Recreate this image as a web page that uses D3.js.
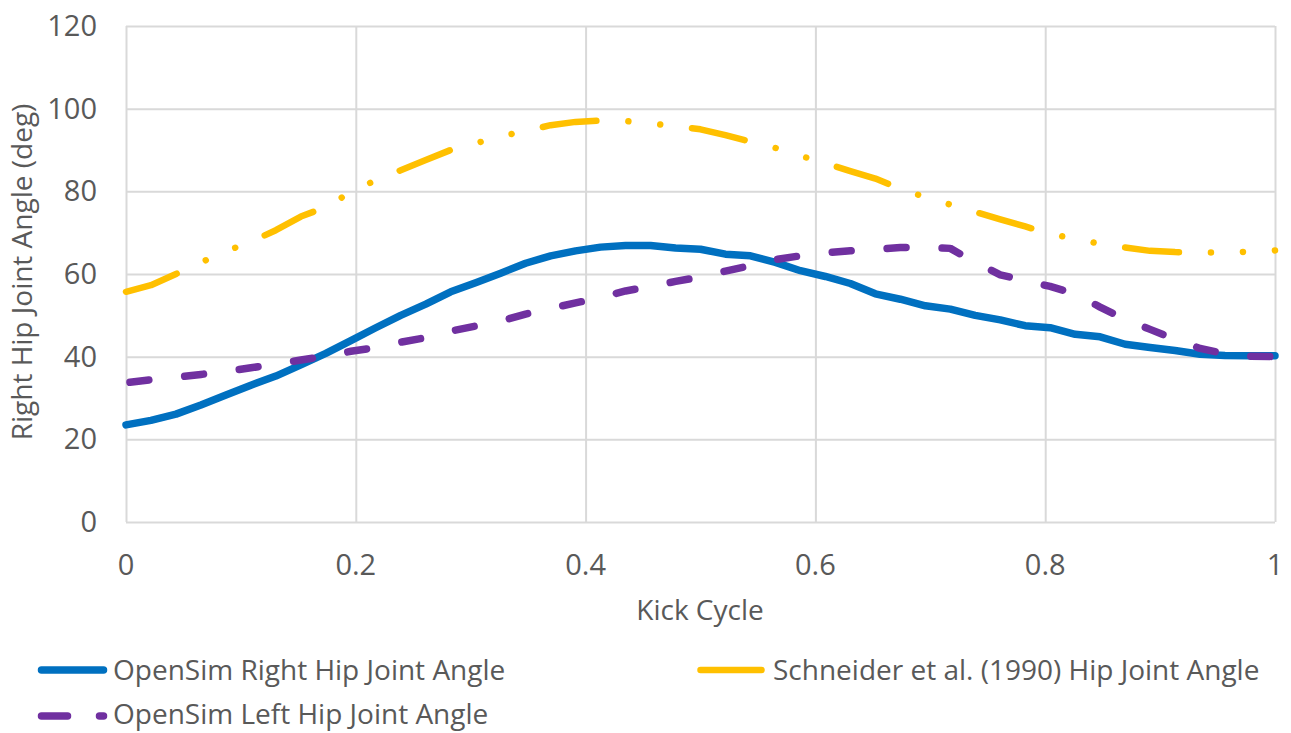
<!DOCTYPE html>
<html>
<head>
<meta charset="utf-8">
<script src="https://cdn.jsdelivr.net/npm/d3@7"></script>
<style>
  html, body { margin: 0; padding: 0; background: #fff; }
  svg { display: block; }
  text { font-family: "Open Sans", "Noto Sans", sans-serif; fill: #595959; }
</style>
</head>
<body>
<svg id="chart" width="1291" height="733"></svg>
<script>
// ---- data ----
const kickCycle = [0, 0.0217, 0.0435, 0.0652, 0.0870, 0.1087, 0.1304, 0.1522, 0.1739, 0.1957,
  0.2174, 0.2391, 0.2609, 0.2826, 0.3043, 0.3261, 0.3478, 0.3696, 0.3913, 0.4130,
  0.4348, 0.4565, 0.4783, 0.5, 0.5217, 0.5435, 0.5652, 0.5870, 0.6087, 0.6304,
  0.6522, 0.6739, 0.6957, 0.7174, 0.7391, 0.7609, 0.7826, 0.8043, 0.8261, 0.8478,
  0.8696, 0.8913, 0.9130, 0.9348, 0.9565, 0.9783, 1];

const rightHip = [23.5, 24.6, 26.1, 28.3, 30.7, 33.1, 35.3, 38.0, 40.8, 43.9,
  47.0, 50.0, 52.7, 55.7, 57.9, 60.2, 62.6, 64.4, 65.6, 66.5,
  66.9, 66.9, 66.3, 66.0, 64.8, 64.4, 62.8, 60.8, 59.4, 57.7,
  55.2, 53.9, 52.3, 51.5, 50.0, 48.9, 47.5, 47.0, 45.4, 44.8,
  43.0, 42.2, 41.5, 40.6, 40.3, 40.2, 40.2];

const schneider = [55.7, 57.3, 60.0, 62.8, 65.5, 67.8, 70.6, 73.9, 76.2, 79.8,
  82.7, 85.1, 87.6, 90.0, 91.6, 93.3, 94.6, 96.0, 96.8, 97.1,
  97.0, 96.4, 95.8, 95.0, 93.6, 92.0, 90.5, 88.6, 86.8, 84.9,
  83.1, 80.6, 78.6, 76.8, 75.0, 73.2, 71.5, 69.7, 68.5, 67.3,
  66.4, 65.6, 65.3, 65.2, 65.2, 65.4, 65.7];

const leftHip = [33.7, 34.4, 35.0, 35.7, 36.4, 37.3, 38.2, 39.2, 40.1, 41.3,
  42.2, 43.5, 44.6, 46.2, 47.4, 48.6, 50.3, 51.7, 53.0, 54.3,
  55.9, 57.0, 58.2, 59.3, 60.7, 62.0, 63.5, 64.4, 65.1, 65.6,
  66.0, 66.4, 66.4, 66.2, 62.8, 59.8, 58.4, 57.0, 55.2, 52.0,
  49.0, 46.6, 44.2, 42.0, 40.7, 40.1, 40.0];

const xTicks = [0, 0.2, 0.4, 0.6, 0.8, 1];
const yTicks = [0, 20, 40, 60, 80, 100, 120];
const seriesNames = ["OpenSim Right Hip Joint Angle", "Schneider et al. (1990) Hip Joint Angle", "OpenSim Left Hip Joint Angle"];
const xTitle = "Kick Cycle";
const yTitle = "Right Hip Joint Angle (deg)";

// ---- layout ----
const svg = d3.select("#chart");
const L = 126, R = 1275, T = 26, B = 522;
const x = d3.scaleLinear().domain([0, 1]).range([L, R]);
const y = d3.scaleLinear().domain([0, 120]).range([B, T]);
const grid = "#d9d9d9";
const tickFont = 29, titleFont = 28;

// gridlines
const gy = svg.append("g").attr("transform", `translate(${L},0)`)
  .call(d3.axisLeft(y).tickValues(yTicks).tickSize(-(R - L)).tickFormat(""));
gy.select(".domain").remove();
gy.selectAll("line").attr("stroke", grid).attr("stroke-width", 2);

const gx = svg.append("g").attr("transform", `translate(0,${B})`)
  .call(d3.axisBottom(x).tickValues(xTicks).tickSize(-(B - T)).tickFormat(""));
gx.select(".domain").remove();
gx.selectAll("line").attr("stroke", grid).attr("stroke-width", 2);

// tick labels
svg.append("g").selectAll("text").data(yTicks).join("text")
  .attr("x", 97).attr("y", d => y(d)).attr("dy", "0.35em")
  .attr("text-anchor", "end").attr("font-size", tickFont).text(d => d);
svg.append("g").selectAll("text").data(xTicks).join("text")
  .attr("x", d => x(d)).attr("y", 565).attr("dy", "0.35em")
  .attr("text-anchor", "middle").attr("font-size", tickFont).text(d => d);

// axis titles
svg.append("text").attr("x", 700).attr("y", 610).attr("dy", "0.35em")
  .attr("text-anchor", "middle").attr("font-size", titleFont).text(xTitle);
svg.append("text").attr("transform", `translate(22,272) rotate(-90)`)
  .attr("dy", "0.35em").attr("text-anchor", "middle").attr("font-size", titleFont).text(yTitle);

// lines
const line = vals => d3.line().x((d, i) => x(kickCycle[i])).y(d => y(d))(vals);

svg.append("path").attr("d", line(schneider)).attr("fill", "none")
  .attr("stroke", "#FFC000").attr("stroke-width", 6.5)
  .attr("stroke-linecap", "round").attr("stroke-linejoin", "round")
  .attr("stroke-dasharray", "54,32,0.01,32,0.01,32");

svg.append("path").attr("d", line(rightHip)).attr("fill", "none")
  .attr("stroke", "#0070C0").attr("stroke-width", 7.5)
  .attr("stroke-linecap", "round").attr("stroke-linejoin", "round");

svg.append("path").attr("d", line(leftHip)).attr("fill", "none")
  .attr("stroke", "#7030A0").attr("stroke-width", 7.5)
  .attr("stroke-linecap", "round").attr("stroke-linejoin", "round")
  .attr("stroke-dasharray", "19,36").attr("stroke-dashoffset", -4);

// legend
const leg = svg.append("g");
leg.append("line").attr("x1", 41.5).attr("x2", 103.5).attr("y1", 670).attr("y2", 670)
  .attr("stroke", "#0070C0").attr("stroke-width", 7.5).attr("stroke-linecap", "round");
leg.append("text").attr("x", 113).attr("y", 670).attr("dy", "0.35em").attr("font-size", titleFont).text(seriesNames[0]);

leg.append("line").attr("x1", 700.5).attr("x2", 761.5).attr("y1", 670).attr("y2", 670)
  .attr("stroke", "#FFC000").attr("stroke-width", 6.5).attr("stroke-linecap", "round");
leg.append("text").attr("x", 773).attr("y", 670).attr("dy", "0.35em").attr("font-size", titleFont).text(seriesNames[1]);

leg.append("line").attr("x1", 41.5).attr("x2", 103.5).attr("y1", 716).attr("y2", 716)
  .attr("stroke", "#7030A0").attr("stroke-width", 7.5).attr("stroke-linecap", "round")
  .attr("stroke-dasharray", "26,32");
leg.append("text").attr("x", 113).attr("y", 714).attr("dy", "0.35em").attr("font-size", titleFont).text(seriesNames[2]);
</script>
</body>
</html>
